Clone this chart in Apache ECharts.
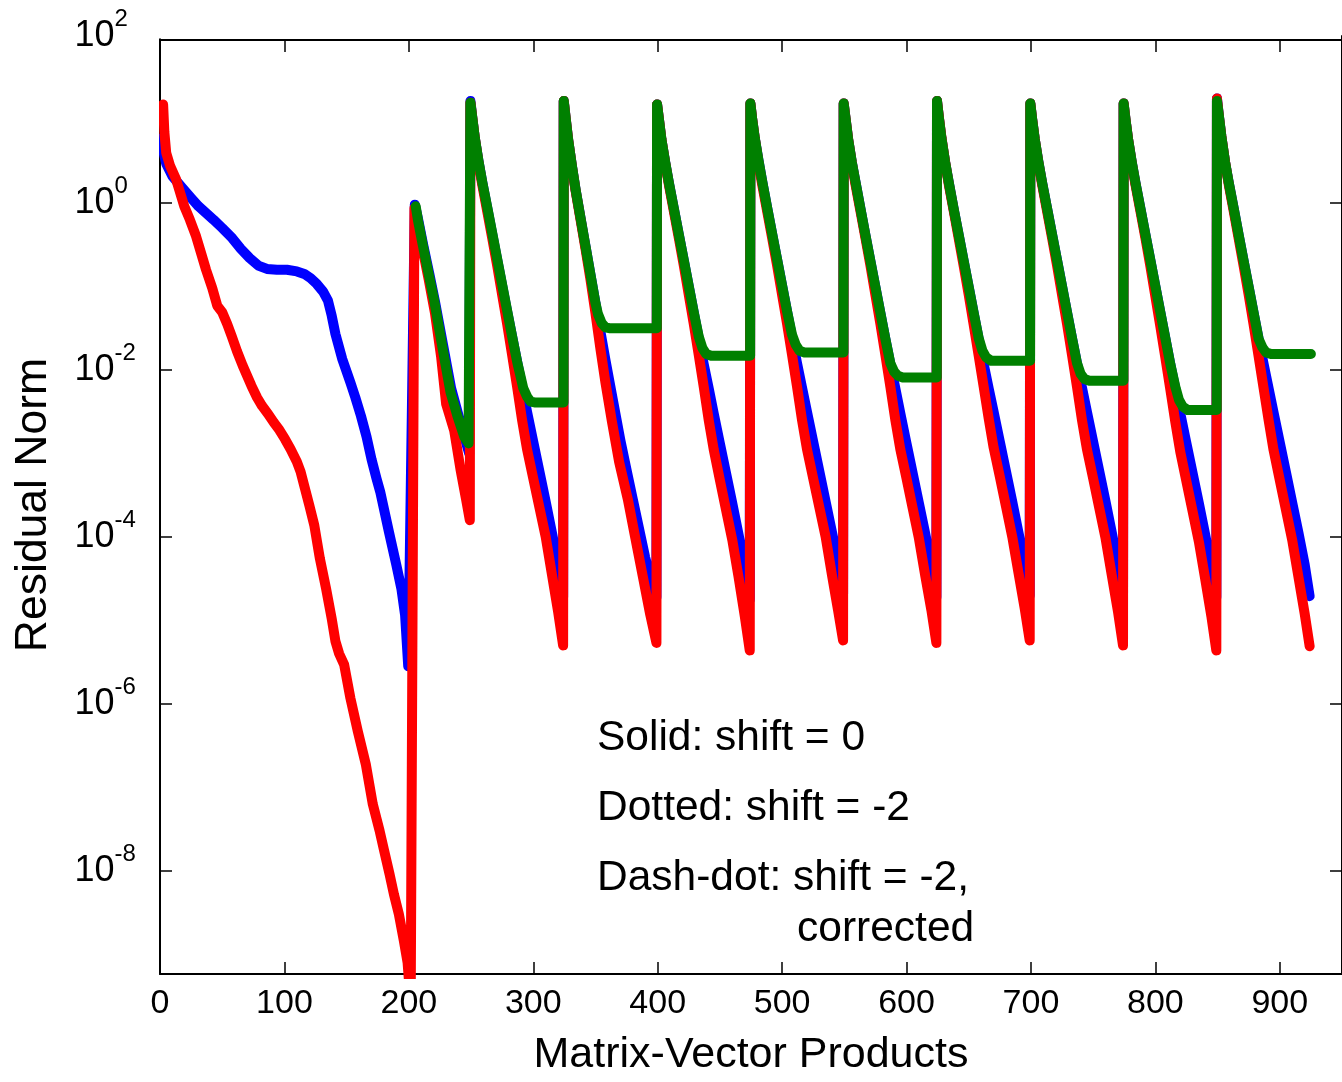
<!DOCTYPE html>
<html><head><meta charset="utf-8">
<script src="https://cdn.jsdelivr.net/npm/echarts@6/dist/echarts.min.js"></script>
<style>html,body{margin:0;padding:0;background:#fff}#c{width:1342px;height:1082px}</style>
</head><body><div id="c"></div>
<script>
// ---- Data: x = matrix-vector products, value = log10(residual norm) ----
const blueX = [2,3,5,10,18,25,31,37,43,50,58,65,72,79,86,94,102,110,116,121,126,131,135,138,141,146.5,153,157,161.5,166,170,174,177,184,190,194,197,199.5,
 204.8,207.5,211.5,216.5,221,227.5,234,240,245,248.5,
 249.5,251,253,256,259,263,267,271,275,279,283,287,291,295,300,305,310,315,320,324,
 324.5,326,328,331,334,338,342,346,350,354,358,362,366,370,375,380,385,390,395,399,
 399.5,401,403,406,409,413,417,421,425,429,433,437,441,445,450,455,460,465,470,474,
 474.5,476,478,481,484,488,492,496,500,504,508,512,516,520,525,530,535,540,545,549,
 549.5,551,553,556,559,563,567,571,575,579,583,587,591,595,600,605,610,615,620,624,
 624.5,626,628,631,634,638,642,646,650,654,658,662,666,670,675,680,685,690,695,699,
 699.5,701,703,706,709,713,717,721,725,729,733,737,741,745,750,755,760,765,770,774,
 774.5,776,778,781,784,788,792,796,800,804,808,812,816,820,825,830,835,840,845,849,
 849.5,851,853,856,859,863,867,871,875,879,883,887,891,895,900,905,910,915,920,924];
const blueLog10 = [0.78,0.6,0.47,0.32,0.18,0.06,-0.04,-0.12,-0.2,-0.3,-0.42,-0.55,-0.66,-0.75,-0.79,-0.8,-0.8,-0.82,-0.85,-0.9,-0.97,-1.06,-1.17,-1.35,-1.57,-1.87,-2.15,-2.33,-2.55,-2.8,-3.07,-3.3,-3.46,-3.94,-4.34,-4.62,-4.94,-5.55,
 -0.02,-0.2,-0.5,-0.85,-1.18,-1.7,-2.22,-2.55,-2.82,-3.0,
 1.22,1.02,0.78,0.5,0.25,-0.06,-0.37,-0.68,-0.99,-1.3,-1.6,-1.9,-2.2,-2.5,-2.86,-3.22,-3.58,-3.95,-4.33,-4.72,
 1.22,1.02,0.76,0.45,0.16,-0.18,-0.52,-0.86,-1.2,-1.54,-1.88,-2.2,-2.52,-2.84,-3.2,-3.55,-3.9,-4.25,-4.52,-4.72,
 1.18,1.0,0.76,0.49,0.24,-0.07,-0.38,-0.69,-1.0,-1.31,-1.62,-1.93,-2.22,-2.52,-2.88,-3.24,-3.6,-3.97,-4.35,-4.75,
 1.19,1.0,0.78,0.51,0.26,-0.06,-0.37,-0.68,-0.99,-1.3,-1.61,-1.92,-2.21,-2.5,-2.86,-3.22,-3.58,-3.94,-4.3,-4.68,
 1.19,1.01,0.77,0.49,0.25,-0.07,-0.39,-0.7,-1.01,-1.32,-1.63,-1.93,-2.22,-2.52,-2.88,-3.24,-3.6,-3.96,-4.33,-4.72,
 1.22,1.02,0.78,0.49,0.24,-0.08,-0.39,-0.7,-1.01,-1.32,-1.63,-1.93,-2.22,-2.5,-2.86,-3.22,-3.58,-3.95,-4.32,-4.7,
 1.19,1.0,0.77,0.49,0.24,-0.07,-0.38,-0.69,-1.0,-1.31,-1.62,-1.92,-2.21,-2.5,-2.86,-3.22,-3.58,-3.95,-4.33,-4.72,
 1.19,1.0,0.77,0.49,0.24,-0.07,-0.38,-0.69,-1.0,-1.31,-1.62,-1.93,-2.22,-2.52,-2.88,-3.24,-3.6,-3.97,-4.35,-4.72,
 1.25,1.05,0.8,0.49,0.24,-0.07,-0.39,-0.7,-1.01,-1.32,-1.63,-1.93,-2.22,-2.51,-2.87,-3.23,-3.59,-3.95,-4.33,-4.71];

const redX = [2.5,3.5,5,8,13,19.5,24,29,33,37,42,46,50,54,57.5,62,66.5,73.5,78,82,87,91.5,96,100.5,105,110,113,116.5,120,124,128.5,133.5,138,141,144,148,153,159,165.5,171,176.5,180,184.5,188,192,196,199,201.5,
 204.5,206,211,216,221,226,230,236.5,241.5,246,249,
 249.5,251,253,256,259,263,267,271,275,279,283,287,291,295,300,305,310,315,320,324,
 324.5,326,328,331,334,338,342,346,350,354,358,363,369,376,382,388,394,399,
 399.5,401,403,406,409,413,417,421,425,429,433,437,441,445,450,455,460,465,470,474,
 474.5,476,478,481,484,488,492,496,500,504,508,512,516,520,525,530,535,540,545,549,
 549.5,551,553,556,559,563,567,571,575,579,583,587,591,595,600,605,610,615,620,624,
 624.5,626,628,631,634,638,642,646,650,654,658,662,666,670,675,680,685,690,695,699,
 699.5,701,703,706,709,713,717,721,725,729,733,737,741,745,750,755,760,765,770,774,
 774.5,776,778,781,784,788,792,796,800,804,808,812,816,820,825,830,835,840,845,849,
 849.5,851,853,856,859,863,867,871,875,879,883,887,891,895,900,905,910,915,920,924];
const redLog10 = [1.18,0.85,0.6,0.45,0.28,-0.04,-0.2,-0.4,-0.6,-0.8,-1.02,-1.23,-1.31,-1.45,-1.59,-1.78,-1.95,-2.19,-2.33,-2.43,-2.53,-2.63,-2.72,-2.83,-2.95,-3.1,-3.22,-3.42,-3.62,-3.86,-4.26,-4.62,-4.98,-5.25,-5.4,-5.53,-5.93,-6.33,-6.73,-7.2,-7.52,-7.75,-8.04,-8.28,-8.52,-8.84,-9.1,-9.6,
 -0.06,-0.25,-0.55,-0.92,-1.32,-1.85,-2.41,-2.73,-3.19,-3.55,-3.8,
 1.2,1.02,0.78,0.48,0.22,-0.1,-0.42,-0.75,-1.1,-1.45,-1.82,-2.2,-2.6,-2.95,-3.3,-3.65,-4.0,-4.45,-4.9,-5.3,
 1.22,1.02,0.76,0.44,0.15,-0.2,-0.55,-0.92,-1.32,-1.75,-2.15,-2.6,-3.1,-3.55,-4.01,-4.47,-4.93,-5.27,
 1.18,1.0,0.76,0.48,0.22,-0.1,-0.42,-0.75,-1.1,-1.45,-1.82,-2.2,-2.6,-2.95,-3.32,-3.68,-4.04,-4.48,-4.95,-5.36,
 1.19,1.0,0.78,0.48,0.22,-0.1,-0.42,-0.75,-1.1,-1.45,-1.82,-2.2,-2.6,-2.95,-3.3,-3.65,-4.0,-4.45,-4.88,-5.24,
 1.19,1.01,0.77,0.48,0.22,-0.1,-0.42,-0.75,-1.1,-1.45,-1.82,-2.2,-2.6,-2.95,-3.3,-3.66,-4.02,-4.46,-4.88,-5.27,
 1.22,1.03,0.79,0.49,0.22,-0.1,-0.43,-0.76,-1.1,-1.46,-1.83,-2.2,-2.58,-2.93,-3.28,-3.64,-4.0,-4.43,-4.86,-5.24,
 1.19,1.0,0.77,0.48,0.22,-0.1,-0.42,-0.75,-1.1,-1.45,-1.82,-2.2,-2.6,-2.95,-3.3,-3.66,-4.02,-4.46,-4.9,-5.3,
 1.19,1.0,0.77,0.48,0.22,-0.1,-0.42,-0.76,-1.12,-1.48,-1.85,-2.23,-2.62,-2.98,-3.34,-3.7,-4.06,-4.5,-4.95,-5.36,
 1.25,1.04,0.8,0.49,0.22,-0.1,-0.43,-0.76,-1.1,-1.46,-1.84,-2.22,-2.6,-2.96,-3.32,-3.68,-4.04,-4.48,-4.92,-5.31];

const greenX = [205.5,207.5,211,215.5,220.5,227,233.5,239,244.5,248,
 249.5,251,253,256,259,263,267,271,275,279,283,287,289.5,292,295,298,301,324.3,
 324.5,326,328,331,334,338,342,346,350,352,355,358,361,399.3,
 399.5,401,403,406,409,413,417,421,425,429,433,436,439,443,474.3,
 474.5,476,478,481,484,488,492,496,500,504,508,511,514,518,549.3,
 549.5,551,553,556,559,563,567,571,575,579,583,587,590,593,597,624.3,
 624.5,626,628,631,634,638,642,646,650,654,658,661,664,668,699.3,
 699.5,701,703,706,709,713,717,721,725,729,733,737,740,743,747,774.3,
 774.5,776,778,781,784,788,792,796,800,804,808,812,816,819,822,826,849.3,
 849.5,851,853,856,859,863,867,871,875,879,883,886,889,893,925];
const greenLog10 = [-0.04,-0.22,-0.49,-0.82,-1.18,-1.73,-2.27,-2.55,-2.8,-2.88,
 1.2,1.02,0.78,0.5,0.25,-0.05,-0.36,-0.67,-0.98,-1.29,-1.6,-1.9,-2.06,-2.22,-2.32,-2.38,-2.39,-2.39,
 1.22,1.02,0.76,0.45,0.16,-0.18,-0.52,-0.86,-1.2,-1.33,-1.44,-1.49,-1.5,-1.5,
 1.18,1.0,0.76,0.49,0.24,-0.07,-0.38,-0.69,-1.0,-1.31,-1.6,-1.74,-1.81,-1.83,-1.83,
 1.19,1.0,0.78,0.51,0.26,-0.06,-0.37,-0.68,-0.99,-1.3,-1.58,-1.7,-1.77,-1.79,-1.79,
 1.19,1.01,0.77,0.49,0.25,-0.07,-0.39,-0.7,-1.01,-1.32,-1.63,-1.92,-2.02,-2.07,-2.09,-2.09,
 1.22,1.02,0.78,0.49,0.24,-0.08,-0.39,-0.7,-1.01,-1.32,-1.62,-1.77,-1.85,-1.89,-1.89,
 1.19,1.0,0.77,0.49,0.24,-0.07,-0.38,-0.69,-1.0,-1.31,-1.62,-1.92,-2.05,-2.11,-2.13,-2.13,
 1.19,1.0,0.77,0.49,0.24,-0.07,-0.38,-0.69,-1.0,-1.31,-1.62,-1.93,-2.2,-2.36,-2.44,-2.48,-2.48,
 1.22,1.05,0.8,0.49,0.24,-0.07,-0.39,-0.7,-1.01,-1.32,-1.63,-1.73,-1.79,-1.81,-1.81];

const yLabelExponents = [-8, -6, -4, -2, 0, 2];
const yTickExponents = [-8, -6, -4, -2, 0];
const annotations = ['Solid: shift = 0', 'Dotted: shift = -2', 'Dash-dot: shift = -2,', 'corrected'];
const xTitle = 'Matrix-Vector Products';
const yTitle = 'Residual Norm';

const FONT = '"Liberation Sans", Arial, sans-serif';
function toPairs(xs, ls) { return xs.map((x, i) => [x, ls[i]]); }

const yMin = -9.236, yMax = 2;
const chart = echarts.init(document.getElementById('c'), null, {renderer: 'canvas'});
const axisLineStyle = {color: '#000', width: 2};
const tickStyle = {color: '#000', width: 1.5};
function lineSeries(data, color) {
  return {type: 'line', data: data, showSymbol: false, symbol: 'none', animation: false, silent: true,
    clip: true, lineStyle: {color: color, width: 10, cap: 'round', join: 'round'}, itemStyle: {color: color}};
}
chart.setOption({
  backgroundColor: '#fff',
  animation: false,
  grid: {left: 160, top: 36, width: 1192, height: 941, containLabel: false},
  xAxis: [{
    type: 'value', min: 0, max: 950, interval: 100, position: 'bottom',
    axisLine: {show: true, onZero: false, lineStyle: axisLineStyle},
    axisTick: {show: true, inside: true, length: 12, lineStyle: tickStyle},
    axisLabel: {showMaxLabel: false, margin: 13, fontSize: 34, color: '#000', fontFamily: FONT},
    splitLine: {show: false},
    name: xTitle, nameLocation: 'middle', nameGap: 60,
    nameTextStyle: {fontSize: 43, color: '#000', fontFamily: FONT, padding: [0, 0, 0, 0]}
  }, {
    type: 'value', min: 0, max: 950, interval: 100, position: 'top', offset: -4,
    axisLine: {show: true, onZero: false, lineStyle: axisLineStyle},
    axisTick: {show: true, inside: true, length: 12, lineStyle: tickStyle},
    axisLabel: {show: false}, splitLine: {show: false}
  }],
  yAxis: [{
    type: 'value', min: yMin, max: yMax, position: 'left',
    axisLine: {show: true, onZero: false, lineStyle: axisLineStyle},
    axisTick: {show: true, inside: true, length: 12, lineStyle: tickStyle, customValues: yTickExponents},
    splitLine: {show: false},
    axisLabel: {
      customValues: yLabelExponents, align: 'left', margin: 85.5, color: '#000',
      formatter: function (v) { return '{b|10}{e|' + Math.round(v) + '}'; },
      rich: {
        b: {fontSize: 36, lineHeight: 57, fontFamily: FONT, color: '#000'},
        e: {fontSize: 24, lineHeight: 26, fontFamily: FONT, color: '#000', verticalAlign: 'top'}
      }
    },
    name: yTitle, nameLocation: 'middle', nameGap: 104, nameRotate: 90,
    nameTextStyle: {fontSize: 44.5, color: '#000', fontFamily: FONT}
  }, {
    type: 'value', min: yMin, max: yMax, position: 'right',
    axisLine: {show: true, onZero: false, lineStyle: axisLineStyle},
    axisTick: {show: true, inside: true, length: 12, lineStyle: tickStyle, customValues: yTickExponents},
    splitLine: {show: false}, axisLabel: {show: false}
  }],
  series: [
    lineSeries(toPairs(blueX, blueLog10), '#0000ff'),
    lineSeries(toPairs(redX, redLog10), '#ff0000'),
    lineSeries(toPairs(greenX, greenLog10), '#008000')
  ],
  graphic: [
    // white masks hiding the part of the thick strokes / axis stub that spills past the frame
    {type: 'rect', silent: true, z: 50, shape: {x: 162, y: 979, width: 1180, height: 10}, style: {fill: '#fff'}},
    {type: 'rect', silent: true, z: 50, shape: {x: 145, y: 41, width: 14, height: 930}, style: {fill: '#fff'}},
    {type: 'rect', silent: true, z: 50, shape: {x: 152, y: 26, width: 14, height: 12.5}, style: {fill: '#fff'}},
    {type: 'text', x: 597, y: 738, silent: true, style: {text: annotations[0], fontSize: 42.5, fontFamily: FONT, fill: '#000', align: 'left', verticalAlign: 'middle'}},
    {type: 'text', x: 597, y: 808, silent: true, style: {text: annotations[1], fontSize: 42.5, fontFamily: FONT, fill: '#000', align: 'left', verticalAlign: 'middle'}},
    {type: 'text', x: 597, y: 878, silent: true, style: {text: annotations[2], fontSize: 42.5, fontFamily: FONT, fill: '#000', align: 'left', verticalAlign: 'middle'}},
    {type: 'text', x: 797, y: 929, silent: true, style: {text: annotations[3], fontSize: 42.5, fontFamily: FONT, fill: '#000', align: 'left', verticalAlign: 'middle'}}
  ]
});
</script></body></html>
